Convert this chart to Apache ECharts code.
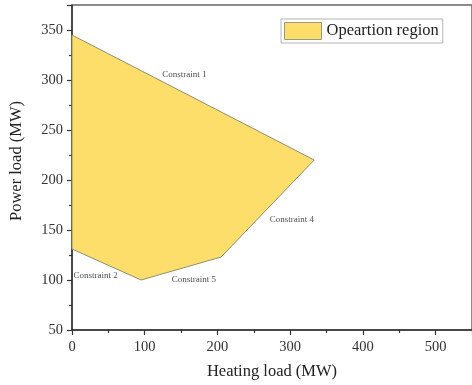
<!DOCTYPE html>
<html>
<head>
<meta charset="utf-8">
<script src="https://cdn.jsdelivr.net/npm/echarts@6/dist/echarts.min.js"></script>
<style>html,body{margin:0;padding:0;background:#fff}#c{width:472px;height:385px}</style>
</head>
<body>
<div id="c"></div>
<script>
// Polygon vertices of the operation region (heating MW, power MW)
var heatingLoad = [0, 333, 205, 95, 0];
var powerLoad   = [345, 220, 123, 100, 131];
var seriesName = 'Opeartion region';
// Constraint annotations
var constraintNames = ['Constraint 1', 'Constraint 2', 'Constraint 5', 'Constraint 4'];
var constraintX = [124, 2, 137, 272];
var constraintY = [305, 104, 100, 160];
var titleText = '(a) Conventional type CHP unit heating region';
var xName = 'Heating load (MW)';
var yName = 'Power load (MW)';

var regionData = heatingLoad.map(function (h, i) { return [h, powerLoad[i]]; });
var labelData = constraintNames.map(function (n, i) { return {value: [constraintX[i], constraintY[i]], name: n}; });

var chart = echarts.init(document.getElementById('c'), null, {renderer: 'canvas'});
var serif = 'Liberation Serif';
chart.setOption({
  animation: false,
  backgroundColor: '#fff',
  graphic: [
    {type: 'text', x: 75, y: -10, silent: true,
      style: {text: titleText, font: '20px "Liberation Sans"', fill: '#111', align: 'left', verticalAlign: 'middle'}},
    {type: 'text', x: 17, y: 161, rotation: Math.PI / 2, silent: true,
      style: {text: yName, font: '16.5px "Liberation Serif"', fill: '#222', align: 'center', verticalAlign: 'middle'}}
  ],
  grid: {left: 72, top: 5, width: 403, height: 325, show: true, borderColor: '#666', borderWidth: 1.5, backgroundColor: 'transparent'},
  legend: {
    left: 281, top: 19, padding: [3, 4, 3, 3], itemGap: 5,
    itemWidth: 37, itemHeight: 17, icon: 'rect',
    borderColor: '#b5b5b5', borderWidth: 1,
    textStyle: {fontFamily: serif, fontSize: 16.5, color: '#222'},
    data: [{name: seriesName, itemStyle: {color: '#FEDE6A', borderColor: '#9a9a80', borderWidth: 1}}]
  },
  xAxis: {
    type: 'value', min: 0, max: 550, interval: 100,
    name: xName, nameLocation: 'middle', nameGap: 33,
    nameTextStyle: {fontFamily: serif, fontSize: 16.5, color: '#222'},
    axisLine: {onZero: false, lineStyle: {color: '#333', width: 1.5}},
    axisTick: {show: true, length: 5, lineStyle: {color: '#333', width: 1.2}},
    minorTick: {show: true, splitNumber: 2, length: 3, lineStyle: {color: '#333', width: 1.2}},
    axisLabel: {fontFamily: serif, fontSize: 14.5, color: '#333', margin: 10, showMaxLabel: false},
    splitLine: {show: false}
  },
  yAxis: {
    type: 'value', min: 50, max: 375, interval: 50,
    nameLocation: 'middle',
    axisLine: {onZero: false, lineStyle: {color: '#333', width: 1.5}},
    axisTick: {show: true, length: 5, lineStyle: {color: '#333', width: 1.2}},
    minorTick: {show: true, splitNumber: 2, length: 3, lineStyle: {color: '#333', width: 1.2}},
    axisLabel: {fontFamily: serif, fontSize: 14.5, color: '#333', margin: 9, showMaxLabel: false},
    splitLine: {show: false}
  },
  series: [
    {
      name: seriesName, type: 'custom',
      itemStyle: {color: '#FEDE6A'},
      data: regionData,
      renderItem: function (params, api) {
        if (params.dataIndex !== 0) return;
        var pts = regionData.map(function (d) { return api.coord(d); });
        return {
          type: 'polygon',
          shape: {points: pts},
          style: {fill: '#FEDE6A', stroke: '#8f8f72', lineWidth: 1}
        };
      },
      z: 2
    },
    {
      name: 'labels', type: 'scatter', symbolSize: 0, data: labelData,
      label: {show: true, position: 'right', distance: 0, formatter: '{b}',
        fontFamily: serif, fontSize: 9, color: '#222'},
      z: 3, silent: true
    }
  ]
});
</script>
</body>
</html>
